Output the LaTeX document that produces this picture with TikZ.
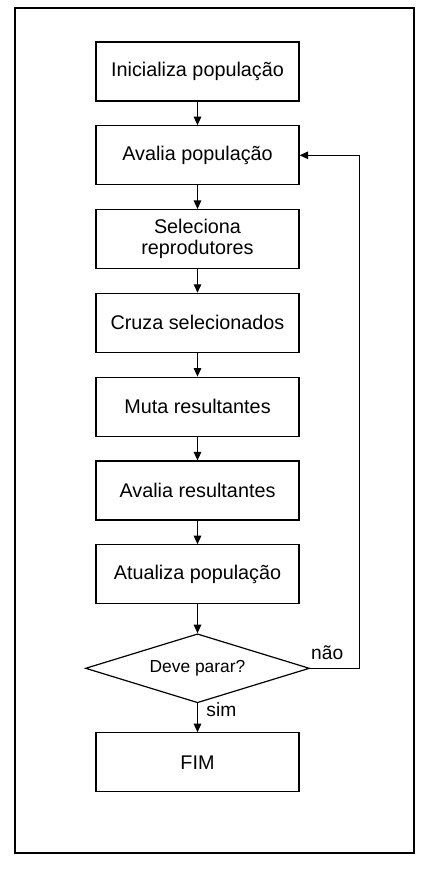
\documentclass[tikz,border=0pt]{standalone}
\usepackage{fontspec}
\setmainfont{Liberation Sans}
\usetikzlibrary{positioning,shapes.geometric,arrows.meta}

\tikzset{
  box/.style={draw, line width=1.2pt, minimum width=203pt, minimum height=59pt,
    inner sep=0pt, align=center, font=\fontsize{19.8}{20.5}\selectfont},
  decisao/.style={draw, diamond, line width=1.2pt, minimum width=224pt, minimum height=69pt,
    aspect=3.25, inner sep=0pt, font=\fontsize{17.4}{19}\selectfont},
  seta/.style={line width=1.2pt, -{Triangle[length=8.5pt,width=7.5pt]}},
  rotulo/.style={font=\fontsize{19.2}{20}\selectfont}
}

\begin{document}
\begin{tikzpicture}[x=1pt, y=-1pt, node distance=23.6pt]
  \useasboundingbox (0,0) rectangle (432,874);
  \draw[line width=1.4pt] (15,8) rectangle (414,853);

  \node[box] (ini) at (197.5,71.5) {Inicializa população};
  \node[box, below=of ini] (aval) {Avalia população};
  \node[box, below=of aval] (sel) {Seleciona\\reprodutores};
  \node[box, below=of sel] (cruza) {Cruza selecionados};
  \node[box, below=of cruza] (muta) {Muta resultantes};
  \node[box, below=of muta] (avres) {Avalia resultantes};
  \node[box, below=of avres] (atual) {Atualiza população};
  \node[decisao, below=28.8pt of atual] (parar) {Deve parar?};
  \node[box, below=28.8pt of parar] (fim) {FIM};

  \draw[seta] (ini) -- (aval);
  \draw[seta] (aval) -- (sel);
  \draw[seta] (sel) -- (cruza);
  \draw[seta] (cruza) -- (muta);
  \draw[seta] (muta) -- (avres);
  \draw[seta] (avres) -- (atual);
  \draw[seta] (atual) -- (parar);
  \draw[seta] (parar) -- node[rotulo, right=5pt, pos=0.22] {sim} (fim);
  \draw[seta] (parar.east) -- node[rotulo, above=5pt, pos=0.35] {não} ++(49,0) |- (aval.east);
\end{tikzpicture}
\end{document}
